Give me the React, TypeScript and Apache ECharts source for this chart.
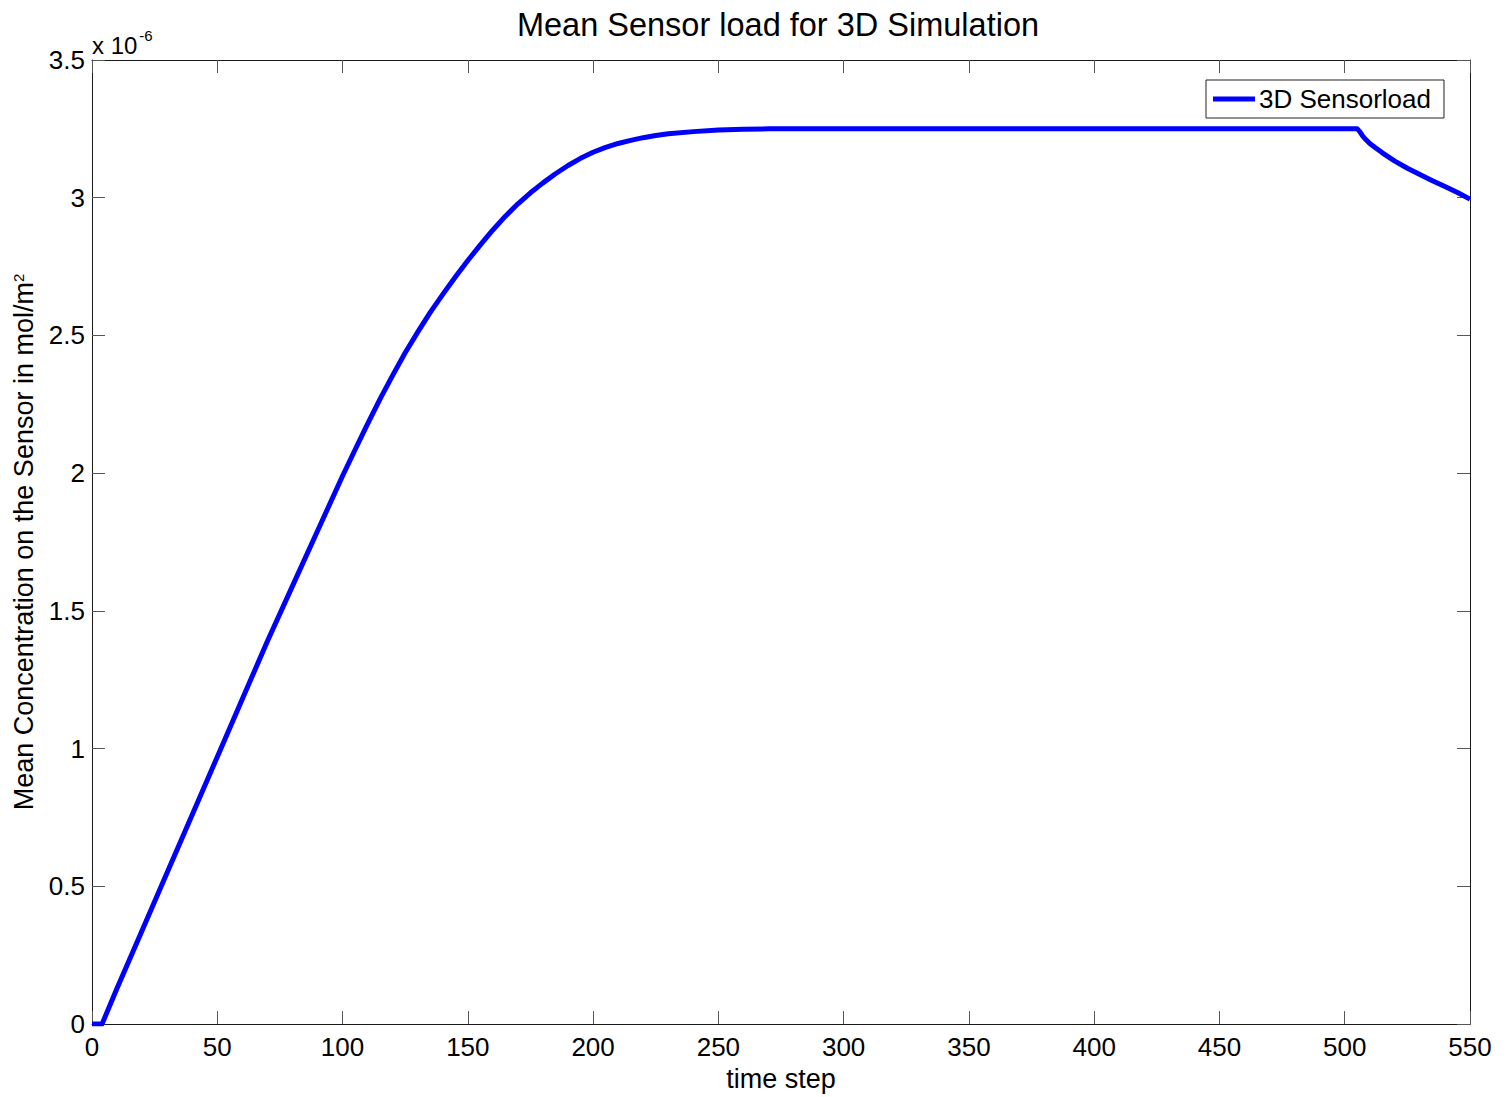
import React, { useEffect, useRef } from "react";
import * as echarts from "echarts";

// Time steps of the simulation
const timeSteps = [
  0, 4, 10, 20, 30, 40, 50, 60, 70, 80, 90, 100, 105, 110, 115, 120, 125, 130,
  135, 140, 145, 150, 155, 160, 165, 170, 175, 180, 185, 190, 195, 200, 205,
  210, 215, 220, 225, 230, 240, 250, 260, 270, 300, 350, 400, 450, 500, 505,
  506, 507, 508, 510, 512, 515, 520, 525, 530, 535, 540, 545, 550,
];

// Mean sensor load, in units of 1e-6 mol/m^2
const sensorLoad = [
  0, 0, 0.13, 0.34, 0.55, 0.76, 0.97, 1.18, 1.39, 1.59, 1.79, 1.99, 2.085,
  2.179, 2.27, 2.355, 2.437, 2.512, 2.584, 2.649, 2.712, 2.772, 2.829, 2.883,
  2.933, 2.978, 3.018, 3.054, 3.087, 3.117, 3.143, 3.165, 3.183, 3.197, 3.208,
  3.218, 3.226, 3.232, 3.24, 3.246, 3.249, 3.25, 3.25, 3.25, 3.25, 3.25, 3.25,
  3.25, 3.24, 3.226, 3.215, 3.197, 3.183, 3.163, 3.133, 3.107, 3.084, 3.062,
  3.041, 3.019, 2.995,
];

const xTicks = { min: 0, max: 550, interval: 50 };
const yTicks = { min: 0, max: 3.5, interval: 0.5 };
const exponent = -6;

const FONT = "'Liberation Sans', Arial, Helvetica, sans-serif";

export default function App() {
  const ref = useRef<HTMLDivElement>(null);

  useEffect(() => {
    if (!ref.current) return;
    const chart = echarts.init(ref.current, undefined, { renderer: "svg" });

    const tickStyle = { lineStyle: { color: "#555", width: 1 } };
    const axisLine = { show: true, onZero: false, lineStyle: { color: "#1a1a1a", width: 1 } };
    const axisTick = { show: true, inside: true, length: 13, ...tickStyle };

    chart.setOption({
      animation: false,
      backgroundColor: "#fff",
      textStyle: { fontFamily: FONT },
      grid: { left: 92, right: 39, top: 60, bottom: 67, containLabel: false },
      legend: {
        data: ["3D Sensorload"],
        left: 1206,
        top: 80,
        orient: "vertical",
        icon: "rect",
        itemWidth: 42,
        itemHeight: 5,
        itemGap: 0,
        padding: [6, 13, 6, 7],
        borderColor: "#222",
        borderWidth: 1,
        backgroundColor: "#fff",
        textStyle: { fontFamily: FONT, fontSize: 26, color: "#000", padding: [0, 0, 0, -1] },
      },
      xAxis: [
        {
          type: "value",
          position: "bottom",
          ...xTicks,
          name: "time step",
          nameLocation: "middle",
          nameGap: 40,
          nameTextStyle: { fontFamily: FONT, fontSize: 27, color: "#000" },
          axisLine,
          axisTick,
          axisLabel: { fontFamily: FONT, fontSize: 26, color: "#000", margin: 10 },
          splitLine: { show: false },
        },
        {
          type: "value",
          position: "top",
          ...xTicks,
          axisLine,
          axisTick,
          axisLabel: { show: false },
          splitLine: { show: false },
        },
      ],
      yAxis: [
        {
          type: "value",
          position: "left",
          ...yTicks,
          name: "Mean Concentration on the Sensor in mol/m{sup|2}",
          nameLocation: "middle",
          nameRotate: 90,
          nameGap: 50,
          nameTextStyle: {
            fontFamily: FONT,
            fontSize: 27,
            color: "#000",
            rich: {
              sup: { fontFamily: FONT, fontSize: 15, color: "#000", verticalAlign: "top", padding: [0, 0, 12, 0] },
            },
          },
          axisLine,
          axisTick,
          axisLabel: {
            fontFamily: FONT,
            fontSize: 26,
            color: "#000",
            margin: 7,
            formatter: (v: number) => String(Math.round(v * 10) / 10),
          },
          splitLine: { show: false },
        },
        {
          type: "value",
          position: "right",
          ...yTicks,
          axisLine,
          axisTick,
          axisLabel: { show: false },
          splitLine: { show: false },
        },
      ],
      graphic: [
        {
          type: "text",
          x: 778,
          y: 8,
          style: {
            text: "Mean Sensor load for 3D Simulation",
            align: "center",
            verticalAlign: "top",
            fontFamily: FONT,
            fontSize: 32.5,
            fill: "#000",
          },
        },
        {
          type: "text",
          left: 92,
          top: 28,
          style: {
            text: `{a|x 10}{b|${exponent}}`,
            rich: {
              a: { fontFamily: FONT, fontSize: 24, fill: "#000", verticalAlign: "bottom" },
              b: { fontFamily: FONT, fontSize: 15, fill: "#000", verticalAlign: "top", padding: [0, 0, 14, 2] },
            },
          },
        },
      ],
      series: [
        {
          name: "3D Sensorload",
          type: "line",
          xAxisIndex: 0,
          yAxisIndex: 0,
          data: timeSteps.map((t, i) => [t, sensorLoad[i]]),
          showSymbol: false,
          symbol: "none",
          smooth: false,
          lineStyle: { color: "#0000ff", width: 5, join: "round" },
          itemStyle: { color: "#0000ff" },
          clip: true,
        },
      ],
    });

    return () => chart.dispose();
  }, []);

  return <div ref={ref} style={{ width: 1509, height: 1097, position: "absolute", left: 0, top: 0 }} />;
}
